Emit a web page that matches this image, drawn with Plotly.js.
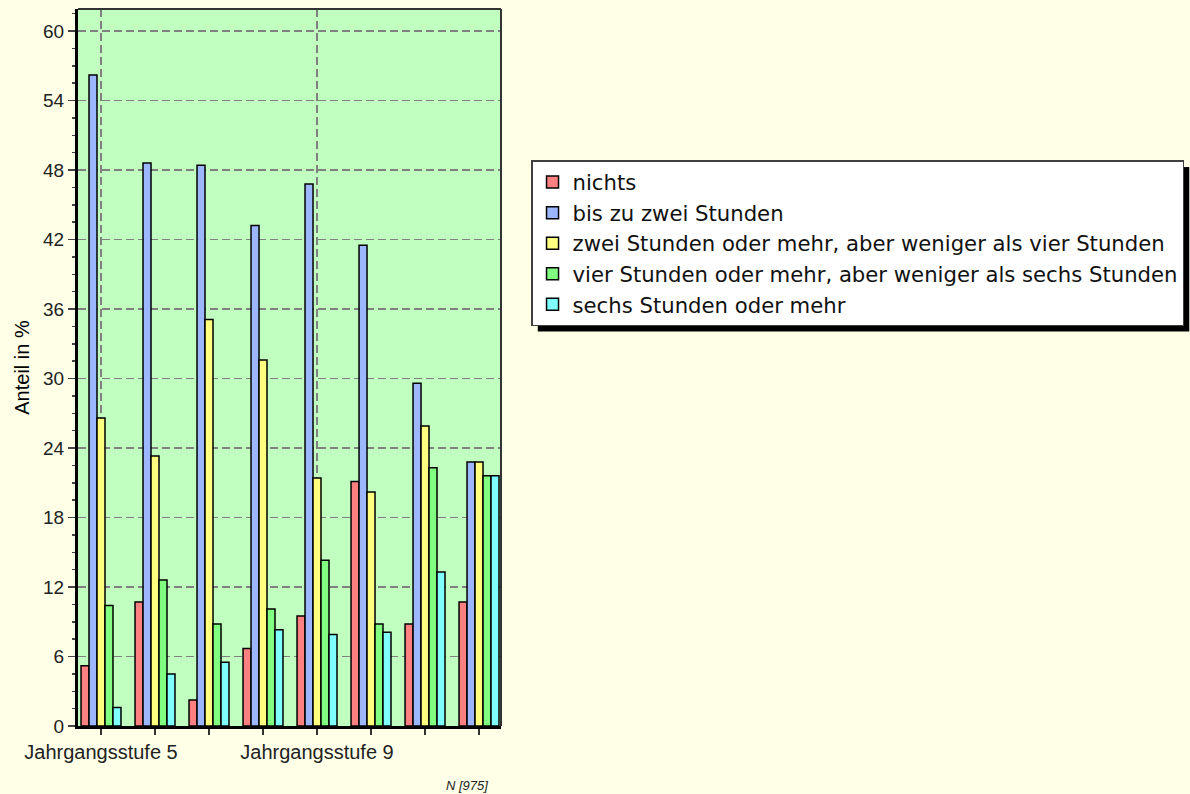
<!DOCTYPE html>
<html>
<head>
<meta charset="utf-8">
<script src="https://cdn.plot.ly/plotly-3.0.1.min.js"></script>
<style>
  html, body { margin: 0; padding: 0; background: #FFFFE8; }
  #chart { width: 1190px; height: 794px; }
</style>
</head>
<body>
<div id="chart"></div>
<script>
// Jahrgangsstufen (only every 4th one gets a label on the axis)
var categories = ['Jahrgangsstufe 5', 'Jahrgangsstufe 6', 'Jahrgangsstufe 7', 'Jahrgangsstufe 8',
                  'Jahrgangsstufe 9', 'Jahrgangsstufe 10', 'Jahrgangsstufe 11', 'Jahrgangsstufe 12'];
var labelledIdx = [0, 4];

var seriesNames = [
  'nichts',
  'bis zu zwei Stunden',
  'zwei Stunden oder mehr, aber weniger als vier Stunden',
  'vier Stunden oder mehr, aber weniger als sechs Stunden',
  'sechs Stunden oder mehr'
];
var seriesColors = ['#FF8080', '#9CB6FF', '#FFFF80', '#80FF80', '#80FFFF'];

// Anteil in %
var nichts       = [5.2, 10.7, 2.25, 6.7, 9.5, 21.1, 8.8, 10.7];
var bisZwei      = [56.2, 48.6, 48.4, 43.2, 46.8, 41.5, 29.6, 22.8];
var zweiBisVier  = [26.6, 23.3, 35.1, 31.6, 21.4, 20.2, 25.9, 22.8];
var vierBisSechs = [10.4, 12.6, 8.8, 10.1, 14.3, 8.8, 22.3, 21.6];
var sechsUndMehr = [1.6, 4.5, 5.5, 8.3, 7.9, 8.1, 13.3, 21.6];

var seriesValues = [nichts, bisZwei, zweiBisVier, vierBisSechs, sechsUndMehr];
var xIdx = categories.map(function (c, i) { return i; });

var traces = seriesValues.map(function (vals, s) {
  return {
    type: 'bar',
    name: seriesNames[s],
    x: xIdx,
    y: vals,
    marker: { color: seriesColors[s], line: { color: '#000000', width: 1.5 } },
    hoverinfo: 'skip'
  };
});

var fontFam = '"Liberation Sans", Arial, sans-serif';

var layout = {
  width: 1190,
  height: 794,
  paper_bgcolor: '#FFFFE8',
  plot_bgcolor: '#C0FFC0',
  margin: { l: 78, r: 689, t: 9, b: 68, autoexpand: false },
  barmode: 'group',
  bargap: 0.26,
  bargroupgap: 0,
  font: { family: fontFam, color: '#000000' },
  xaxis: {
    range: [-0.426, 7.407],
    tickmode: 'array',
    tickvals: labelledIdx,
    ticktext: labelledIdx.map(function (i) { return categories[i]; }),
    tickfont: { size: 20, color: '#222222' },
    ticks: 'outside',
    ticklen: 6,
    tickwidth: 1.5,
    tickcolor: '#333333',
    showgrid: true,
    gridcolor: '#808080',
    gridwidth: 1.3,
    griddash: '8px,4px',
    minor: { tickvals: xIdx, ticks: 'outside', ticklen: 6, tickwidth: 1.5, tickcolor: '#333333', showgrid: false },
    showline: true,
    linecolor: '#000000',
    linewidth: 3,
    zeroline: false,
    automargin: false,
    fixedrange: true
  },
  yaxis: {
    range: [0, 61.9],
    tickmode: 'linear',
    tick0: 0,
    dtick: 6,
    tickfont: { size: 19, color: '#222222' },
    ticks: 'outside',
    ticklen: 7,
    tickwidth: 1.5,
    tickcolor: '#444444',
    showgrid: true,
    gridcolor: '#808080',
    gridwidth: 1.3,
    griddash: '8px,4px',
    minor: { dtick: 1.5, ticks: 'outside', ticklen: 3, tickwidth: 1.5, tickcolor: '#444444', showgrid: false },
    showline: true,
    linecolor: '#000000',
    linewidth: 3,
    zeroline: false,
    automargin: false,
    title: { text: 'Anteil in %', font: { size: 20 }, standoff: 9 },
    fixedrange: true
  },
  legend: {
    x: 1.071,
    y: 0.789,
    xanchor: 'left',
    yanchor: 'top',
    bgcolor: '#FFFFFF',
    bordercolor: '#404040',
    borderwidth: 1.5,
    font: { family: '"DejaVu Sans", sans-serif', size: 21.2, color: '#111111' },
    tracegroupgap: 0
  },
  shapes: [
    // thin frame on top and right
    { type: 'line', xref: 'paper', yref: 'paper', x0: 0, x1: 1, y0: 1, y1: 1, line: { color: '#333333', width: 2 } },
    { type: 'line', xref: 'paper', yref: 'paper', x0: 1, x1: 1, y0: 0, y1: 1, line: { color: '#333333', width: 2 } }
  ],
  annotations: [
    { text: '<i>N [975]</i>', xref: 'paper', yref: 'paper', x: 0.974, y: -0.0836,
      xanchor: 'right', yanchor: 'middle', showarrow: false,
      font: { size: 13, color: '#222222' } }
  ]
};

Plotly.newPlot('chart', traces, layout, { displayModeBar: false, staticPlot: true }).then(function (gd) {
  // drop shadow behind the legend box, offset down-right
  var bg = gd.querySelector('.legend .bg');
  if (!bg) return;
  var r = bg.getBoundingClientRect();
  var g = gd.getBoundingClientRect();
  var sz = gd._fullLayout._size;
  var toX = function (px) { return (px - g.left - sz.l) / sz.w; };
  var toY = function (py) { return 1 - (py - g.top - sz.t) / sz.h; };
  var off = 6;
  var shapes = layout.shapes.slice();
  shapes.push({
    type: 'rect', xref: 'paper', yref: 'paper', layer: 'below',
    x0: toX(r.left + off), x1: toX(r.right + off),
    y0: toY(r.bottom + off), y1: toY(r.top + off),
    fillcolor: '#000000', line: { width: 0 }
  });
  Plotly.relayout(gd, { shapes: shapes });
});
</script>
</body>
</html>
